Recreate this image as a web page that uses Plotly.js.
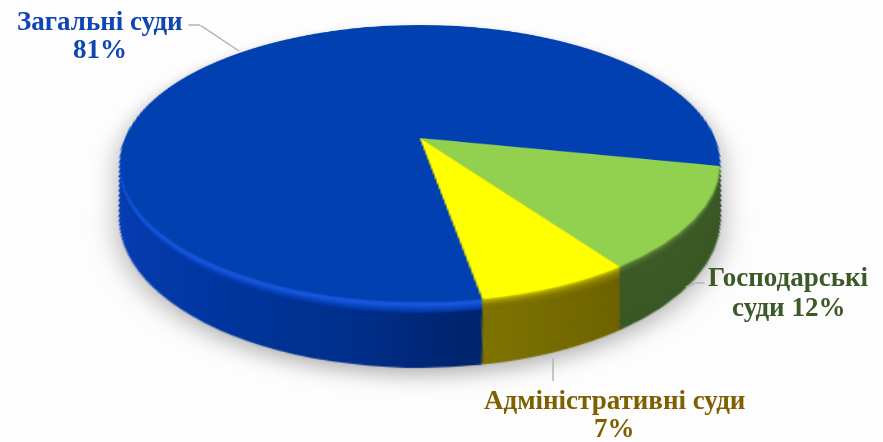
<!DOCTYPE html>
<html>
<head>
<meta charset="utf-8">
<script src="https://cdn.plot.ly/plotly-3.0.1.min.js"></script>
<style>
html,body{margin:0;padding:0;background:#fdfdfd;overflow:hidden}
#chart{width:883px;height:442px}
</style>
</head>
<body>
<div id="chart"></div>
<script>
const categories = ['Загальні суди', 'Господарські суди', 'Адміністративні суди'];
const shares = [81, 12, 7];
const topColors = ['#0040b0', '#92d050', '#ffff00'];
const edgeStops = [
  // [depth, blue, green, yellow]  from the top edge of the side to its bottom
  [0.00, '#0d4ac8', '#668f3e', '#d8d000'],
  [0.05, '#1a5ae0', '#4f7431', '#a49a00'],
  [0.11, '#0c46c2', '#3f5e28', '#857a00'],
  [0.18, '#0036a2', '#3c5a26', '#786c00'],
  [1.00, '#00308f', '#3a5825', '#786c00']
];
const blueSide = [[0, '#083cb4'], [0.2, '#0036a0'], [0.4, '#002f8c'], [0.56, '#00246e'], [1, '#002470']];
const yellowSide = [[0, '#9c9400'], [0.2, '#807600'], [1, '#6e6200']];
const labels = [
  {text: 'Загальні суди', x: 100, y: 21, color: '#0f46b4'},
  {text: '81%', x: 100, y: 49, color: '#0f46b4'},
  {text: 'Господарські', x: 788, y: 277, color: '#3b5a27'},
  {text: 'суди 12%', x: 788, y: 307, color: '#3b5a27'},
  {text: 'Адміністративні суди', x: 614, y: 400, color: '#7f6000'},
  {text: '7%', x: 614, y: 428, color: '#7f6000'}
];
const leaders = [
  [[188, 25], [200, 25]], [[200, 25], [239, 51]],
  [[553, 382], [553, 358]],
  [[705, 283], [695, 283]], [[695, 283], [686, 287]]
];

const W = 883, H = 442;
const R = 170, CX = 441, CY = 180;          // flat pie before the tilt
const DEPTH_SHIFT = 0.374, DEPTH_SHRINK = 0.068;
const LAYERS = 70;

function hex(c){return [1,3,5].map(i=>parseInt(c.slice(i,i+2),16));}
function mix(a,b,t){const A=hex(a),B=hex(b);return 'rgb('+A.map((v,i)=>Math.round(v+(B[i]-v)*t)).join(',')+')';}
function edgeColor(col,t){
  for(let i=0;i<edgeStops.length-1;i++){
    const s=edgeStops[i],e=edgeStops[i+1];
    if(t<=e[0]) return mix(s[col+1],e[col+1],(t-s[0])/(e[0]-s[0]));
  }
  return edgeStops[edgeStops.length-1][col+1];
}
function pieTrace(t,colors){
  const r=R*(1-DEPTH_SHRINK*t), cy=CY+R*DEPTH_SHIFT*t;
  return {
    type:'pie', values:shares, labels:categories, sort:false, direction:'clockwise', rotation:170,
    textinfo:'none', hoverinfo:'skip', showlegend:false,
    marker:{colors:colors,line:{width:0}},
    domain:{x:[(CX-r)/W,(CX+r)/W], y:[1-(cy+r)/H,1-(cy-r)/H]}
  };
}
const traces=[], depths=[];
for(let i=LAYERS;i>=1;i--){
  const t=i/LAYERS;
  depths.push(t);
  traces.push(pieTrace(t,[edgeColor(0,t),edgeColor(1,t),edgeColor(2,t)]));
}
traces.push(pieTrace(0,topColors));

const annotations=labels.map(l=>({
  xref:'paper',yref:'paper',x:l.x/W,y:1-l.y/H,showarrow:false,align:'center',
  xanchor:'center',yanchor:'middle',text:'<b>'+l.text+'</b>',
  font:{family:'"Liberation Serif",serif',size:27,color:l.color}
})).concat(leaders.map(s=>({
  xref:'paper',yref:'paper',x:s[1][0]/W,y:1-s[1][1]/H,text:' ',showarrow:true,arrowhead:0,
  arrowwidth:1.5,arrowcolor:'#b4b4b4',axref:'pixel',ayref:'pixel',
  ax:s[0][0]-s[1][0],ay:s[0][1]-s[1][1],standoff:0,startstandoff:0,borderpad:0,
  font:{size:1}
})));

function addGradient(defs,id,stops){
  const NS='http://www.w3.org/2000/svg';
  const g=document.createElementNS(NS,'linearGradient');
  g.setAttribute('id',id);
  g.setAttribute('x1','0');g.setAttribute('x2','1');g.setAttribute('y1','0');g.setAttribute('y2','0');
  stops.forEach(s=>{
    const st=document.createElementNS(NS,'stop');
    st.setAttribute('offset',s[0]);st.setAttribute('stop-color',s[1]);
    g.appendChild(st);
  });
  defs.appendChild(g);
}

Plotly.newPlot('chart',traces,{
  width:W,height:H,margin:{l:0,r:0,t:0,b:0},autosize:false,
  paper_bgcolor:'rgba(0,0,0,0)',plot_bgcolor:'rgba(0,0,0,0)',showlegend:false,
  annotations:annotations
},{displayModeBar:false,staticPlot:true}).then(gd=>{
  const svg=gd.querySelector('.main-svg');
  const defs=svg.querySelector('defs');
  addGradient(defs,'blueSide',blueSide);
  addGradient(defs,'yellowSide',yellowSide);
  const pies=svg.querySelectorAll('.pielayer .trace');
  depths.forEach((t,i)=>{
    if(t<0.18) return;
    const p=pies[i].querySelectorAll('path.surface');
    p[0].style.fill='url(#blueSide)';
    p[2].style.fill='url(#yellowSide)';
  });
  // Tilt the disc drawn by the pie traces (centre at 420,138; rim 119..720 wide, 25..302 tall)
  const X0=420,Y0=138,k=-0.184,A=294.9,B=133.8;
  const m=[
    A/R, 0, 0, 0,
    X0*k/R, (B+Y0*k)/R, 0, k/R,
    0,0,1,0,
    X0-A*CX/R-X0*k*CY/R, Y0-(B+Y0*k)*CY/R, 0, 1-k*CY/R
  ];
  svg.style.transformOrigin='0 0';
  svg.style.overflow='visible';
  svg.style.transform='matrix3d('+m.join(',')+')';
  svg.style.filter='drop-shadow(0px 6px 7px rgba(0,0,0,0.28))';
});
</script>
</body>
</html>
